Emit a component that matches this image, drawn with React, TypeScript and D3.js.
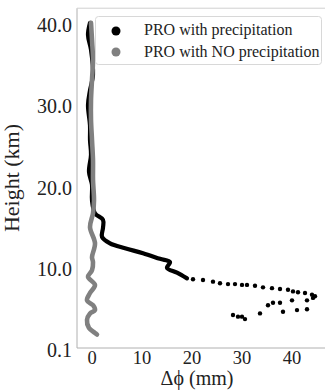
import * as d3 from 'd3';

// [Δφ (mm), height (km)]
const PRECIP_TRACE: [number, number][] = [
  [-0.4, 40.3], [-0.8, 38.8], [-0.2, 37.0], [0.2, 33.9], [-0.4, 32.0], [-0.8, 30.2],
  [-0.4, 27.7], [-0.4, 25.9], [-0.2, 24.1], [-0.6, 22.0], [0, 20.4], [0, 18.5],
  [0.6, 16.9], [2.2, 16.1], [2.2, 15.1], [2.0, 14.0], [3.6, 13.2], [6.6, 12.6],
  [10.2, 12.0], [13.6, 11.3], [15.6, 10.9], [15.0, 10.2], [17.0, 9.6], [19.0, 8.9],
];

const PRECIP_DOTS: [number, number][] = [
  [20.2, 8.8], [22.2, 8.7], [24.2, 8.5], [25.6, 8.3], [27.2, 8.2], [28.6, 8.2],
  [30.0, 8.1], [31.0, 8.1], [32.6, 8.0], [34.2, 7.8], [36.0, 7.7], [37.6, 7.6],
  [39.2, 7.5], [40.2, 7.3], [41.2, 7.2], [42.6, 7.1], [44.0, 6.9], [44.6, 6.7],
  [44.2, 6.5], [43.0, 6.2], [40.0, 6.2], [37.6, 5.9], [36.2, 5.9], [35.2, 5.6],
  [41.0, 5.0], [43.0, 5.1], [38.2, 4.8], [33.6, 4.6], [28.2, 4.4], [29.2, 4.2],
  [30.0, 4.2], [30.6, 3.9],
];

const NOPRECIP_TRACE: [number, number][] = [
  [-0.2, 40.3], [0, 38.2], [0.2, 35.7], [0, 33.3], [-0.2, 30.8], [-0.2, 28.4],
  [0, 25.9], [0.2, 23.4], [0.2, 21.0], [0.4, 18.5], [0.2, 16.9], [-0.4, 15.2],
  [0.6, 13.2], [0, 11.5], [0.2, 10.9], [0, 9.9], [-0.8, 9.1], [0.6, 8.1],
  [-0.4, 7.1], [-1.0, 6.2], [0.2, 5.6], [0.6, 5.0], [-0.4, 4.6], [-1.0, 3.8],
  [-0.6, 2.8], [0.6, 2.2], [1.0, 2.0],
];

const X_TICKS = [0, 10, 20, 30, 40];
const Y_TICKS = [0.1, 10, 20, 30, 40];
const Y_TICK_LABELS = ['0.1', '10.0', '20.0', '30.0', '40.0'];
const LEGEND = [
  { label: 'PRO with precipitation', color: '#000000' },
  { label: 'PRO with NO precipitation', color: '#808080' },
];

const FONT = "'Liberation Serif', Tinos, 'Times New Roman', 'DejaVu Serif', serif";

export default function App() {
  const W = 325;
  const H = 390;

  const x = d3.scaleLinear().domain([-3, 46.6]).range([77, 325]);
  const y = d3.scaleLinear().domain([0.1, 40]).range([350, 25.3]);

  const left = x(-3);
  const right = x(46.6);
  const top = y(42.1);
  const bottom = 348;

  const line = d3.line<[number, number]>()
    .x(d => x(d[0]))
    .y(d => y(d[1]))
    .curve(d3.curveCatmullRom);

  const txt = { fontFamily: FONT };

  return (
    <svg width={W} height={H} style={{ position: 'absolute', left: 0, top: 0 }}>
      <rect width={W} height={H} fill="#fff" />

      {/* spines */}
      <line x1={left} x2={left} y1={top} y2={bottom} stroke="#b0b0b0" />
      <line x1={left} x2={right} y1={bottom} y2={bottom} stroke="#b0b0b0" />
      <line x1={left} x2={right} y1={top} y2={top} stroke="#d0d0d0" />

      {/* with precipitation */}
      <path d={line(PRECIP_TRACE) ?? ''} fill="none" stroke="#000" strokeWidth={4.2}
        strokeLinecap="round" strokeLinejoin="round" />
      {PRECIP_DOTS.map((d, i) => (
        <circle key={i} cx={x(d[0])} cy={y(d[1])} r={2.2} fill="#000" />
      ))}

      {/* no precipitation */}
      <path d={line(NOPRECIP_TRACE) ?? ''} fill="none" stroke="#808080" strokeWidth={4.6}
        strokeLinecap="round" strokeLinejoin="round" />

      {/* y ticks */}
      {Y_TICKS.map((t, i) => (
        <text key={t} x={72} y={y(t) + 6.5} textAnchor="end" style={txt}
          fontSize={20} fill="#222">{Y_TICK_LABELS[i]}</text>
      ))}
      {/* x ticks */}
      {X_TICKS.map(t => (
        <text key={t} x={x(t)} y={364} textAnchor="middle" style={txt} fontSize={18.5} fill="#222">{t}</text>
      ))}

      <text x={197} y={385} textAnchor="middle" style={txt} fontSize={20} fill="#222">Δϕ (mm)</text>
      <text transform="translate(19,178) rotate(-90)" textAnchor="middle" style={txt} fontSize={22} fill="#222">
        Height (km)
      </text>

      {/* legend */}
      <rect x={95.5} y={16.5} width={226} height={48} rx={3} fill="#fff" fillOpacity={0.8}
        stroke="#d8d8d8" />
      {LEGEND.map((l, i) => (
        <g key={l.label}>
          <circle cx={116} cy={31 + i * 21} r={4.5} fill={l.color} />
          <text x={144} y={35 + i * 21.5} style={txt} fontSize={16} fill="#222">{l.label}</text>
        </g>
      ))}
    </svg>
  );
}
